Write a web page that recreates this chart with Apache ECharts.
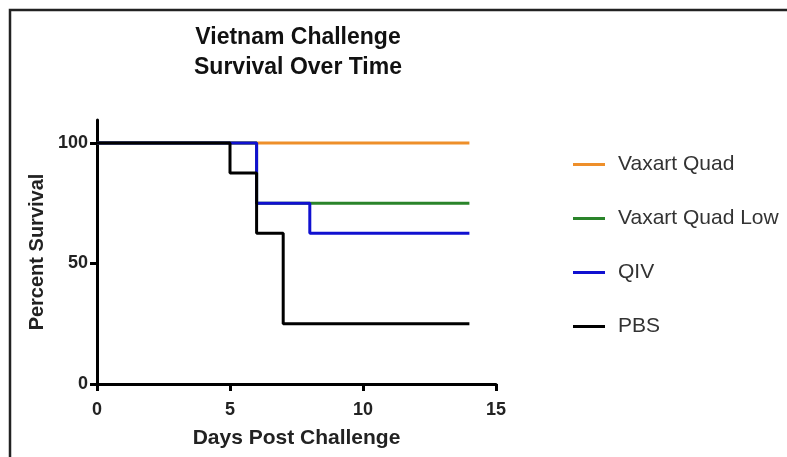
<!DOCTYPE html>
<html>
<head>
<meta charset="utf-8">
<script src="https://cdn.jsdelivr.net/npm/echarts@6/dist/echarts.min.js"></script>
<style>
  html, body { margin: 0; padding: 0; background: #fff; }
  #chart { width: 787px; height: 457px; }
</style>
</head>
<body>
<div id="chart"></div>
<script>
// Kaplan-Meier survival per group: day of each step and percent surviving after it
const quadDays = [0, 14];
const quadSurv = [100, 100];
const lowDays = [0, 6, 14];
const lowSurv = [100, 75, 75];
const qivDays = [0, 6, 8, 14];
const qivSurv = [100, 75, 62.5, 62.5];
const pbsDays = [0, 5, 6, 7, 14];
const pbsSurv = [100, 87.5, 62.5, 25, 25];

const groupNames = ['Vaxart Quad', 'Vaxart Quad Low', 'QIV', 'PBS'];
const groupColors = ['#EE8F2A', '#2A842A', '#1010D0', '#000000'];
const xTicks = [0, 5, 10, 15];
const yTicks = [0, 50, 100];

const FONT = '"Liberation Sans", Arial, sans-serif';

function pairs(xs, ys) { return xs.map((x, i) => [x, ys[i]]); }

const curves = [
  pairs(quadDays, quadSurv),
  pairs(lowDays, lowSurv),
  pairs(qivDays, qivSurv),
  pairs(pbsDays, pbsSurv)
];

const chart = echarts.init(document.getElementById('chart'), null, { renderer: 'canvas' });

chart.setOption({
  animation: false,
  backgroundColor: '#ffffff',
  textStyle: { fontFamily: FONT },
  title: {
    text: 'Vietnam Challenge\nSurvival Over Time',
    left: 298,
    textAlign: 'center',
    top: 23,
    padding: 0,
    textStyle: { fontFamily: FONT, fontSize: 23, fontWeight: 'bold', color: '#111', lineHeight: 30 }
  },
  legend: {
    orient: 'vertical',
    left: 573,
    top: 154,
    padding: 0,
    icon: 'rect',
    itemWidth: 32,
    itemHeight: 3,
    itemGap: 33,
    data: groupNames,
    textStyle: { fontFamily: FONT, fontSize: 21, color: '#333', lineHeight: 21, padding: [0, 0, 0, 8] }
  },
  grid: { left: 97, right: 291, top: 120, bottom: 73 },
  xAxis: {
    type: 'value',
    min: 0,
    max: 15,
    interval: 5,
    name: 'Days Post Challenge',
    nameLocation: 'middle',
    nameGap: 44,
    nameTextStyle: { fontFamily: FONT, fontSize: 21, fontWeight: 'bold', color: '#222' },
    splitLine: { show: false },
    axisLine: { show: true, onZero: false, lineStyle: { color: '#000', width: 3 } },
    axisTick: { show: true, length: 7, lineStyle: { color: '#000', width: 3 }, customValues: xTicks },
    axisLabel: { fontFamily: FONT, fontSize: 18, fontWeight: 'bold', color: '#222', margin: 17, customValues: xTicks }
  },
  yAxis: {
    type: 'value',
    min: 0,
    max: 109.5,
    name: 'Percent Survival',
    nameLocation: 'middle',
    nameGap: 50,
    nameRotate: 90,
    nameTextStyle: { fontFamily: FONT, fontSize: 20, fontWeight: 'bold', color: '#222' },
    splitLine: { show: false },
    axisLine: { show: true, onZero: false, lineStyle: { color: '#000', width: 3 } },
    axisTick: { show: true, length: 7, lineStyle: { color: '#000', width: 3 }, customValues: yTicks },
    axisLabel: { fontFamily: FONT, fontSize: 18, fontWeight: 'bold', color: '#222', margin: 9, customValues: yTicks }
  },
  series: groupNames.map((name, i) => ({
    name: name,
    type: 'line',
    step: 'end',
    data: curves[i],
    symbol: 'none',
    color: groupColors[i],
    lineStyle: { color: groupColors[i], width: 3 },
    z: 2 + i
  })),
  graphic: [{
    type: 'polyline',
    shape: { points: [[10, 457], [10, 10], [787, 10]] },
    style: { stroke: '#222', lineWidth: 2.5, fill: null },
    silent: true
  }]
});
</script>
</body>
</html>
